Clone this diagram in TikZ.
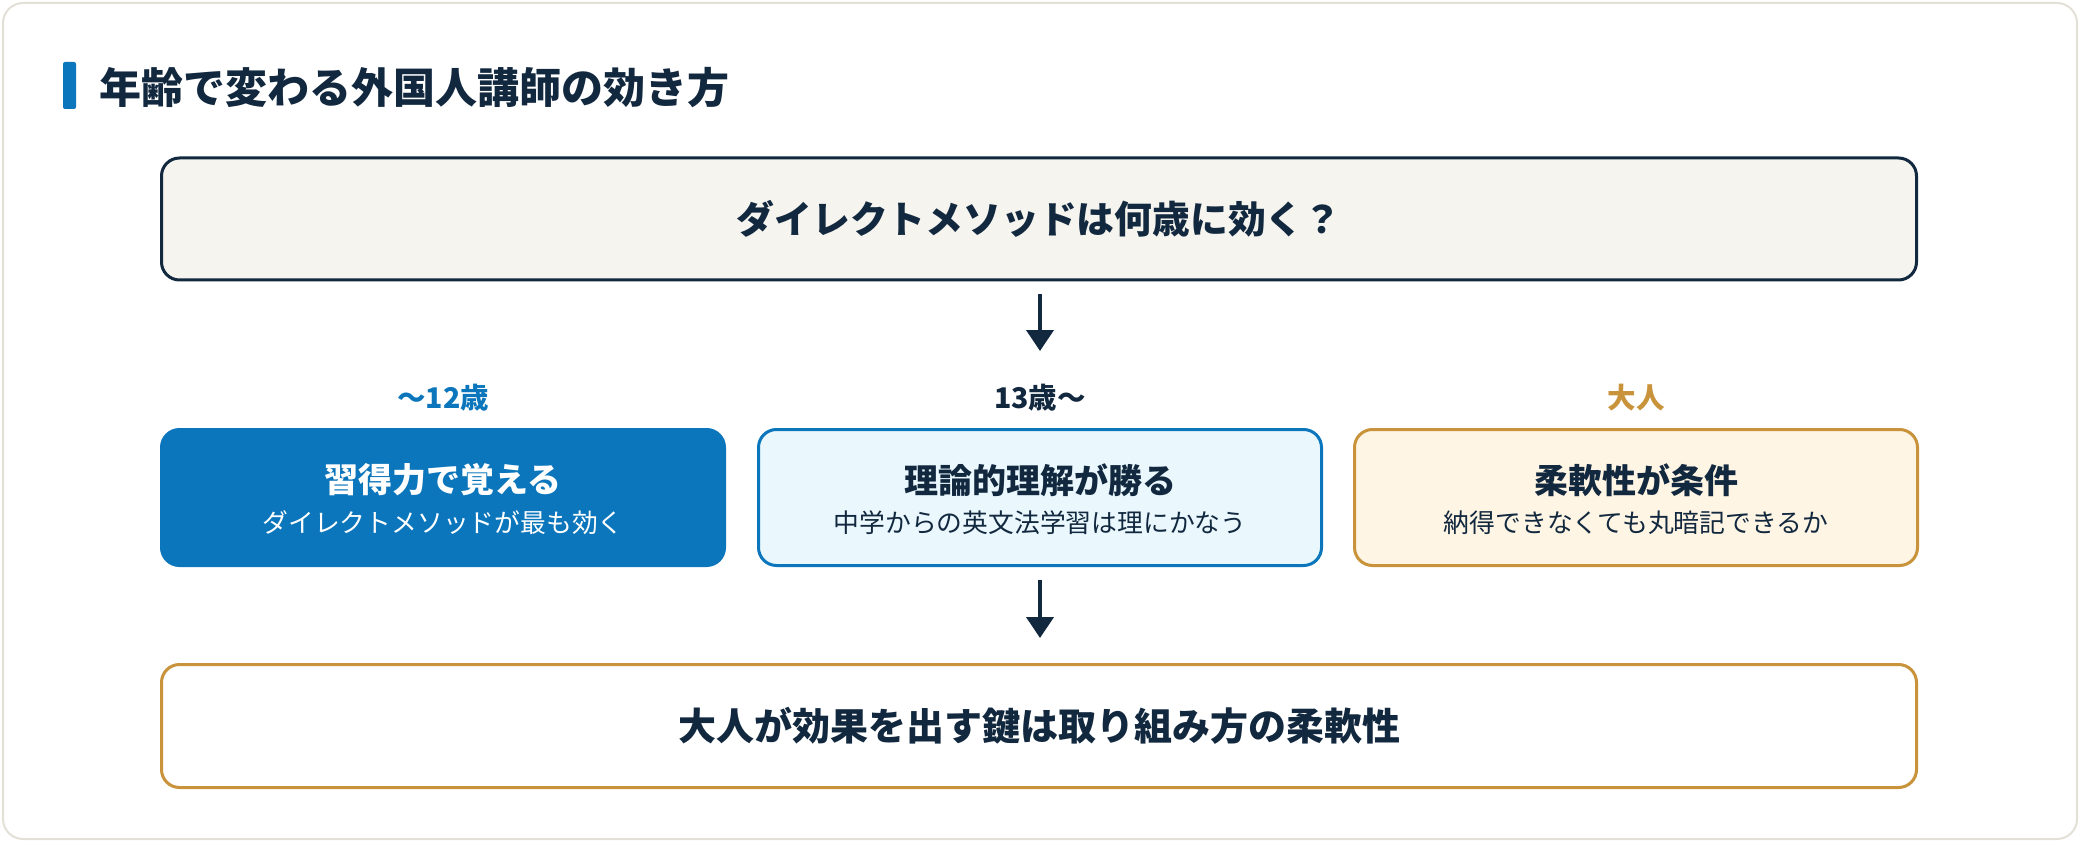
\documentclass[tikz,border=0pt]{standalone}
\usepackage{fontspec}
\setmainfont{Noto Sans CJK JP}
\usetikzlibrary{positioning,arrows.meta,calc}
\definecolor{navy}{HTML}{12283F}
\definecolor{ageblue}{HTML}{0B76BB}
\definecolor{gold}{HTML}{C8933A}
\definecolor{paper}{HTML}{F5F4EF}
\definecolor{icefill}{HTML}{EAF8FE}
\definecolor{creamfill}{HTML}{FFF5E4}
\definecolor{cardline}{HTML}{E3E1D7}

\begin{document}
\begin{tikzpicture}[x=1pt, y=-1pt,
  card/.style={draw, line width=3pt, rounded corners=18pt, text=navy},
  agebox/.style={card, minimum width=563pt, minimum height=136pt},
  head/.style={font=\fontsize{34}{40}\selectfont\bfseries, inner sep=0pt},
  sub/.style={font=\fontsize{25.8}{30}\selectfont, inner sep=0pt},
  agelabel/.style={font=\fontsize{28.5}{33}\selectfont\bfseries, inner sep=0pt},
  flow/.style={-{Triangle[width=27pt,length=21pt]}, line width=4pt, draw=navy},
  >=Stealth
]
  \useasboundingbox (0,0) rectangle (2080,842);
  \draw[cardline, line width=2pt, fill=white, rounded corners=20pt] (3,3) rectangle (2077,839);

  % title
  \fill[ageblue, rounded corners=2pt] (63,62) rectangle (76,109);
  \node[anchor=west, inner sep=0pt, text=navy, font=\fontsize{42}{48}\selectfont\bfseries]
    (title) at (99,88) {年齢で変わる外国人講師の効き方};

  % question
  \node[card, draw=navy, fill=paper, minimum width=1755pt, minimum height=122pt,
    font=\fontsize{37.8}{44}\selectfont\bfseries] (q) at (1039,219) {ダイレクトメソッドは何歳に効く？};

  % age groups
  \node[agelabel, text=ageblue] (age1) at (443,398) {〜12歳};
  \node[agelabel, text=navy] (age2) at (1040,398) {13歳〜};
  \node[agelabel, text=gold] (age3) at (1636,398) {大人};

  \node[agebox, draw=ageblue, fill=ageblue] (kid) at (443,497.5) {};
  \node[agebox, draw=ageblue, fill=icefill] (teen) at (1040,497.5) {};
  \node[agebox, draw=gold, fill=creamfill] (adult) at (1636,497.5) {};

  \node[head, text=white] (kidh) at (443,480) {習得力で覚える};
  \node[sub, text=white] (kids) at (443,523) {ダイレクトメソッドが最も効く};
  \node[head, text=navy] (teenh) at (1040,480) {理論的理解が勝る};
  \node[sub, text=navy] (teens) at (1040,523) {中学からの英文法学習は理にかなう};
  \node[head, text=navy] (adulth) at (1636,480) {柔軟性が条件};
  \node[sub, text=navy] (adults) at (1636,523) {納得できなくても丸暗記できるか};

  % conclusion
  \node[card, draw=gold, fill=white, minimum width=1755pt, minimum height=123pt,
    font=\fontsize{38}{44}\selectfont\bfseries] (key) at (1039,726) {大人が効果を出す鍵は取り組み方の柔軟性};

  \draw[flow, shorten <=13pt, shorten >=77pt] (q.south -| teen) -- (teen.north);
  \draw[flow, shorten <=13pt, shorten >=25pt] (teen.south) -- (key.north -| teen);
\end{tikzpicture}
\end{document}
